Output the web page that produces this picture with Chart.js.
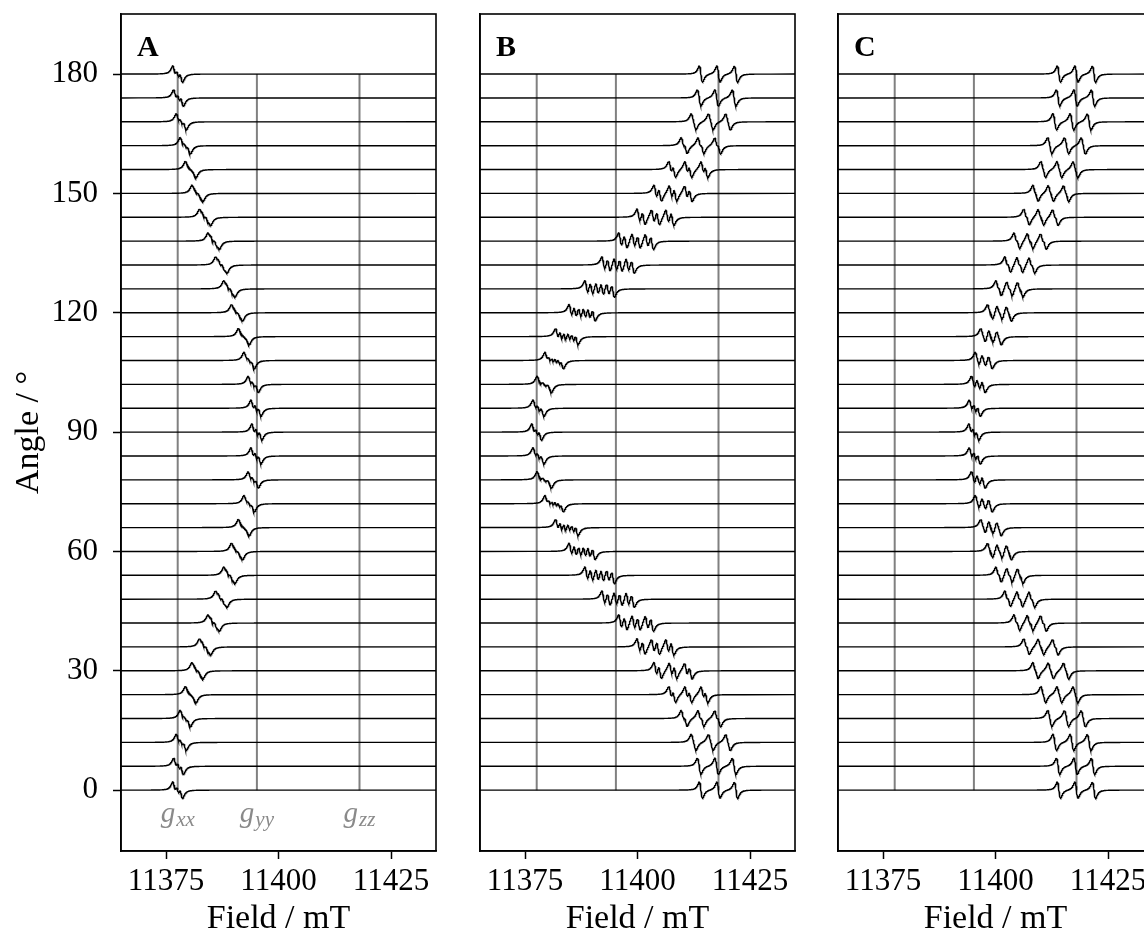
<!DOCTYPE html>
<html><head><meta charset="utf-8">
<script src="https://cdn.jsdelivr.net/npm/chart.js@4.4.0/dist/chart.umd.min.js"></script>
<style>
html,body{margin:0;padding:0;background:#fff;overflow:hidden;width:1144px;height:939px;position:relative;}
canvas{position:absolute;top:0;}
</style></head><body>
<canvas id="cA" width="440" height="939" style="left:0px"></canvas>
<canvas id="cB" width="360" height="939" style="left:440px"></canvas>
<canvas id="cC" width="360" height="939" style="left:800px"></canvas>
<script>
// ---- data ----
const angles = [0,6,12,18,24,30,36,42,48,54,60,66,72,78,84,90,96,102,108,114,120,126,132,138,144,150,156,162,168,174,180];
const xTicks = [11375, 11400, 11425];
const yTicks = [0, 30, 60, 90, 120, 150, 180];
const gFields = [11377.6, 11395.2, 11418.0];
const gNames = ['xx', 'yy', 'zz'];
const panelLetters = ['A', 'B', 'C'];

// panel A: centre field (mT), 14N splitting (mT), site splitting (mT)
const centersA = [11377.6,11377.8,11378.4,11379.3,11380.5,11382.0,11383.7,11385.6,11387.3,11389.1,11390.8,11392.3,11393.5,11394.4,11395.0,11395.2,11395.0,11394.4,11393.5,11392.3,11390.8,11389.1,11387.3,11385.6,11383.7,11382.0,11380.5,11379.3,11378.4,11377.8,11377.6];
const hfsA = [0.78,0.78,0.78,0.78,0.78,0.79,0.79,0.79,0.79,0.79,0.80,0.80,0.80,0.80,0.80,0.80,0.80,0.80,0.80,0.80,0.80,0.79,0.79,0.79,0.79,0.79,0.78,0.78,0.78,0.78,0.78];
const splitA = [0,0.11,0.21,0.31,0.39,0.45,0.49,0.52,0.52,0.49,0.45,0.39,0.31,0.21,0.11,0,0.11,0.21,0.31,0.39,0.45,0.49,0.52,0.52,0.49,0.45,0.39,0.31,0.21,0.11,0];

// panel B
const centersB = [11418.0,11417.6,11416.3,11414.1,11411.3,11407.9,11404.0,11399.7,11395.7,11391.6,11387.7,11384.3,11381.5,11379.3,11378.0,11377.6,11378.0,11379.3,11381.5,11384.3,11387.7,11391.6,11395.7,11399.7,11404.0,11407.9,11411.3,11414.1,11416.3,11417.6,11418.0];
const hfsB = [3.90,3.88,3.82,3.72,3.58,3.40,3.19,2.94,2.67,2.38,2.06,1.74,1.41,1.11,0.87,0.78,0.87,1.11,1.41,1.74,2.06,2.38,2.67,2.94,3.19,3.40,3.58,3.72,3.82,3.88,3.90];
const splitB = [0,0.25,0.49,0.71,0.89,1.04,1.14,1.19,1.19,1.14,1.04,0.89,0.71,0.49,0.25,0,0.25,0.49,0.71,0.89,1.04,1.14,1.19,1.19,1.14,1.04,0.89,0.71,0.49,0.25,0];

// panel C
const centersC = [11418.0,11417.8,11417.0,11415.8,11414.2,11412.3,11410.1,11407.7,11405.4,11403.1,11400.9,11399.0,11397.4,11396.2,11395.4,11395.2,11395.4,11396.2,11397.4,11399.0,11400.9,11403.1,11405.4,11407.7,11410.1,11412.3,11414.2,11415.8,11417.0,11417.8,11418.0];
const hfsC = [3.90,3.88,3.82,3.72,3.58,3.40,3.20,2.95,2.68,2.39,2.08,1.76,1.44,1.14,0.90,0.80,0.90,1.14,1.44,1.76,2.08,2.39,2.68,2.95,3.20,3.40,3.58,3.72,3.82,3.88,3.90];
const splitC = [0,0.14,0.28,0.40,0.51,0.59,0.65,0.68,0.68,0.65,0.59,0.51,0.40,0.28,0.14,0,0.14,0.28,0.40,0.51,0.59,0.65,0.68,0.68,0.65,0.59,0.51,0.40,0.28,0.14,0];

// ---- settings ----
const X_MIN = 11365, X_MAX = 11435, Y_MIN = -15.3, Y_MAX = 195.1;
const LINE_WIDTH_MT = 0.7;   // peak-to-peak line width
const TRACE_AMP = 2.05;      // trace amplitude in angle units
const SERIF = '"Liberation Serif", "Times New Roman", serif';

function trace(center, hfs, split, angle) {
  const gam = LINE_WIDTH_MT * Math.sqrt(3) / 2;
  const pos = [];
  for (const s of [-0.5, 0.5]) for (const m of [-1, 0, 1]) pos.push(center + s * split + m * hfs);
  const f = b => { let v = 0; for (const p of pos) { const u = (b - p) / gam; v += -u / ((1 + u * u) * (1 + u * u)); } return v; };
  const lo = Math.max(X_MIN, center - hfs - split - 8), hi = Math.min(X_MAX, center + hfs + split + 8);
  const xs = [X_MIN];
  for (let b = lo; b <= hi; b += 0.04) xs.push(b);
  xs.push(X_MAX);
  const vals = xs.map(f);
  let mx = 0; for (const v of vals) mx = Math.max(mx, Math.abs(v));
  const k = TRACE_AMP / mx;
  return xs.map((b, i) => ({ x: b, y: angle + k * vals[i] }));
}

const framePlugin = {
  id: 'frame',
  afterDatasetsDraw(chart, args, opts) {
    const { ctx, chartArea: a, scales } = chart;
    ctx.save();
    ctx.strokeStyle = '#000'; ctx.lineWidth = 1.6;
    ctx.strokeRect(a.left, a.top, a.right - a.left, a.bottom - a.top);
    ctx.fillStyle = '#000';
    ctx.font = 'bold 30px ' + SERIF;
    ctx.textBaseline = 'alphabetic'; ctx.textAlign = 'left';
    ctx.fillText(opts.letter, a.left + 16, a.top + 42);
    if (opts.gLabels) {
      const yb = scales.y.getPixelForValue(-8.1);
      gFields.forEach((g, i) => {
        const xc = scales.x.getPixelForValue(g);
        ctx.fillStyle = '#8a8a8a';
        ctx.font = 'italic 29px ' + SERIF;
        const w1 = ctx.measureText('g').width;
        ctx.font = 'italic 21px ' + SERIF;
        const w2 = ctx.measureText(gNames[i]).width;
        const x0 = xc - (w1 + w2 + 1) / 2;
        ctx.font = 'italic 29px ' + SERIF;
        ctx.fillText('g', x0, yb);
        ctx.font = 'italic 21px ' + SERIF;
        ctx.fillText(gNames[i], x0 + w1 + 1, yb + 4);
      });
    }
    ctx.restore();
  }
};

function makeChart(id, centers, hfs, split, letter, opts) {
  const datasets = [];
  angles.forEach((ang, i) => {
    datasets.push({ data: trace(centers[i], hfs[i], split[i], ang), borderColor: '#000', borderWidth: 1.4,
      pointRadius: 0, tension: 0, fill: false, order: 0 });
  });
  gFields.forEach(g => {
    datasets.push({ data: [{ x: g, y: angles[0] }, { x: g, y: angles[angles.length - 1] }], borderColor: '#808080',
      borderWidth: 2, pointRadius: 0, fill: false, order: 1 });
  });
  const tickFont = { family: SERIF, size: 31 };
  const titleFont = { family: SERIF, size: 34 };
  return new Chart(document.getElementById(id), {
    type: 'line',
    data: { datasets },
    plugins: [framePlugin],
    options: {
      responsive: false, animation: false, events: [], parsing: false,
      layout: { padding: { top: 14, right: opts.padRight, left: 0, bottom: 0 } },
      plugins: { legend: { display: false }, tooltip: { enabled: false }, frame: { letter, gLabels: opts.gLabels } },
      scales: {
        x: {
          type: 'linear', min: X_MIN, max: X_MAX,
          afterBuildTicks: s => { s.ticks = xTicks.map(v => ({ value: v })); },
          ticks: { font: tickFont, color: '#000', padding: 4, maxRotation: 0, autoSkip: false, callback: v => String(v) },
          grid: { drawOnChartArea: false, drawTicks: true, tickLength: 8, tickWidth: 1.5, tickColor: '#000' },
          border: { display: true, color: '#000', width: 1.6 },
          title: { display: true, text: 'Field / mT', font: titleFont, color: '#000', padding: { top: 0, bottom: 0 } },
          afterFit: s => { s.height = 88; s.paddingLeft = 0; s.paddingRight = 0; }
        },
        y: {
          type: 'linear', min: Y_MIN, max: Y_MAX,
          afterBuildTicks: s => { s.ticks = yTicks.map(v => ({ value: v })); },
          ticks: { display: opts.yLabels, font: tickFont, color: '#000', padding: 15, callback: v => String(v) },
          grid: { drawOnChartArea: false, drawTicks: opts.yLabels, tickLength: 8, tickWidth: 1.5, tickColor: '#000' },
          border: { display: true, color: '#000', width: 1.6 },
          title: { display: opts.yLabels, text: 'Angle / °', font: titleFont, color: '#000', padding: { top: 9, bottom: 0 } },
          afterFit: s => { s.width = opts.yWidth; s.paddingTop = 0; s.paddingBottom = 0; }
        }
      }
    }
  });
}

makeChart('cA', centersA, hfsA, splitA, panelLetters[0], { yLabels: true, yWidth: 121, padRight: 4, gLabels: true });
makeChart('cB', centersB, hfsB, splitB, panelLetters[1], { yLabels: false, yWidth: 40, padRight: 5, gLabels: false });
makeChart('cC', centersC, hfsC, splitC, panelLetters[2], { yLabels: false, yWidth: 38, padRight: 7, gLabels: false });
</script>
</body></html>
